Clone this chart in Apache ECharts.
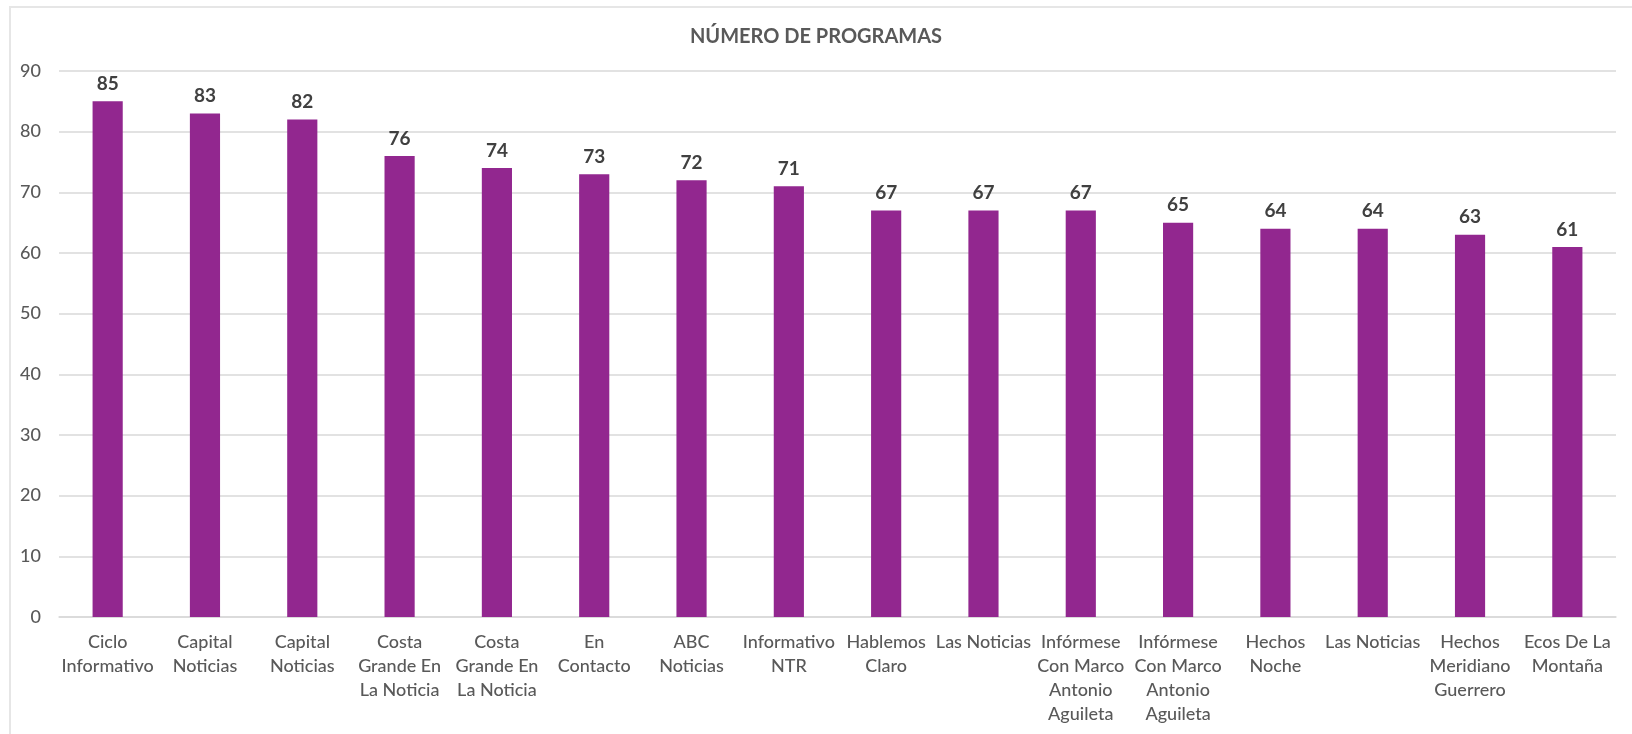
<!DOCTYPE html>
<html>
<head>
<meta charset="utf-8">
<script src="https://cdn.jsdelivr.net/npm/echarts@6/dist/echarts.min.js"></script>
<style>
  html, body { margin: 0; padding: 0; background: #fff; }
  #frame {
    position: absolute; left: 9px; top: 6px; width: 1623px; height: 728px;
    border-left: 2px solid #e6e6e6; border-top: 2px solid #e6e6e6;
    box-sizing: border-box;
  }
  #chart { position: absolute; left: 0; top: 0; width: 1632px; height: 734px; }
</style>
</head>
<body>
<div id="frame"></div>
<div id="chart"></div>
<script>
// programas (los saltos de linea siguen la etiqueta original)
const programas = [
  'Ciclo\nInformativo', 'Capital\nNoticias', 'Capital\nNoticias',
  'Costa\nGrande En\nLa Noticia', 'Costa\nGrande En\nLa Noticia', 'En\nContacto',
  'ABC\nNoticias', 'Informativo\nNTR', 'Hablemos\nClaro', 'Las Noticias',
  'Infórmese\nCon Marco\nAntonio\nAguileta', 'Infórmese\nCon Marco\nAntonio\nAguileta',
  'Hechos\nNoche', 'Las Noticias', 'Hechos\nMeridiano\nGuerrero', 'Ecos De La\nMontaña'
]
const numeroProgramas = [85, 83, 82, 76, 74, 73, 72, 71, 67, 67, 67, 65, 64, 64, 63, 61]
const yTicks = [0, 10, 20, 30, 40, 50, 60, 70, 80, 90]

const chart = echarts.init(document.getElementById('chart'))
const fontFam = 'Lato, "Open Sans", sans-serif'

chart.setOption({
  animation: false,
  title: {
    text: 'NÚMERO DE PROGRAMAS',
    left: 'center',
    top: 22,
    textStyle: { color: '#595959', fontSize: 20, fontWeight: 'bold', fontFamily: fontFam }
  },
  grid: { left: 59, right: 16, top: 71, bottom: 117, containLabel: false },
  xAxis: {
    type: 'category',
    data: programas,
    axisTick: { show: false },
    axisLine: { lineStyle: { color: '#d9d9d9', width: 1.5 } },
    axisLabel: {
      interval: 0,
      color: '#595959',
      fontSize: 18,
      fontWeight: 500,
      lineHeight: 24,
      margin: 13,
      fontFamily: fontFam
    }
  },
  yAxis: {
    type: 'value',
    min: yTicks[0],
    max: yTicks[yTicks.length - 1],
    interval: 10,
    axisLine: { show: false },
    axisTick: { show: false },
    splitLine: { lineStyle: { color: '#d9d9d9', width: 1.5 } },
    axisLabel: { color: '#595959', fontSize: 18, fontWeight: 500, margin: 18, fontFamily: fontFam }
  },
  series: [{
    type: 'bar',
    data: numeroProgramas,
    barWidth: '31%',
    itemStyle: { color: '#92278F' },
    label: {
      show: true,
      position: 'top',
      distance: 8,
      color: '#404040',
      fontSize: 19,
      fontWeight: 'bold',
      fontFamily: fontFam
    }
  }]
})
</script>
</body>
</html>
